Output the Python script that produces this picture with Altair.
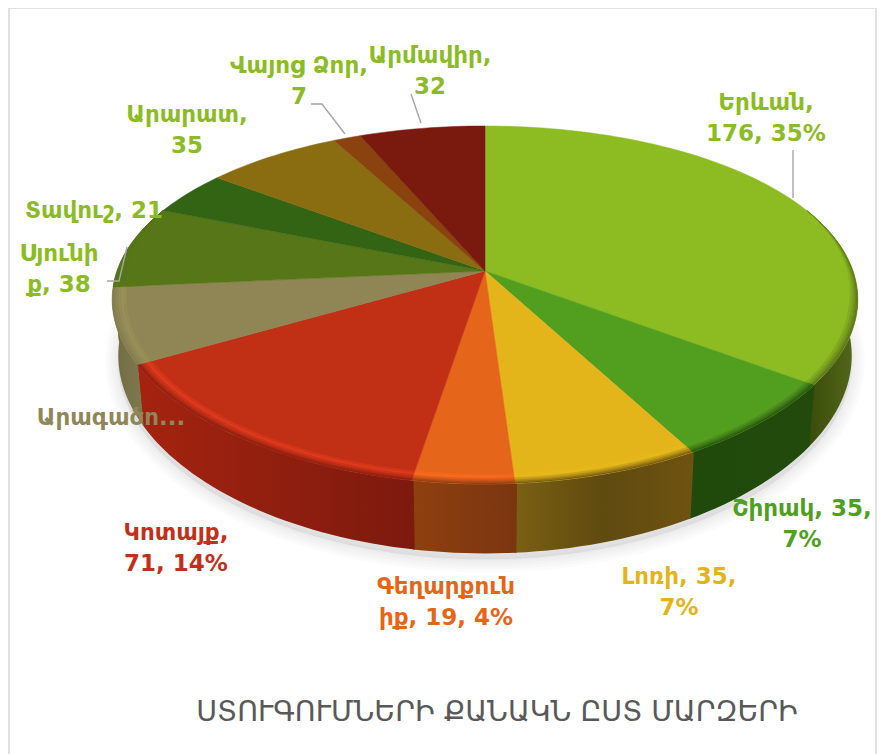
import math
import altair as alt

# ---- data
regions = ["Երևան", "Շիրակ", "Լոռի", "Գեղարքունիք", "Կոտայք", "Արագածոտն", "Սյունիք", "Տավուշ", "Արարատ", "Վայոց Ձոր", "Արմավիր"]
values = [176, 35, 35, 19, 71, 34, 38, 21, 35, 7, 32]
label_texts = ["Երևան,\n176, 35%", "Շիրակ, 35,\n7%", "Լոռի, 35,\n7%", "Գեղարքուն\nիք, 19, 4%", "Կոտայք,\n71, 14%",
               "Արագածո...", "Սյունի\nք, 38", "Տավուշ, 21", "Արարատ,\n35", "Վայոց Ձոր,\n7", "Արմավիր,\n32"]
title_text = "ՍՏՈՒԳՈՒՄՆԵՐԻ ՔԱՆԱԿՆ ԸՍՏ ՄԱՐԶԵՐԻ"

# ---- styles
top_colors = ["#8cbc22", "#529e1f", "#e3b51a", "#e5651a", "#c12f15", "#8f8555", "#567617", "#326414", "#8a6d10", "#8a420f", "#7a1a0e"]
hi_colors = ["#8cbc22", "#559f20", "#e8b91b", "#fb6a20", "#e03b1c", "#989058", "#567617", "#326414", "#8a6d10", "#8a420f", "#7a1a0e"]
wall_stops = [["#3a4c0b", "#55691a"], ["#1f4a0c", "#224a0c"], ["#7a6012", "#5f4a10", "#6f5210"], ["#8f4010", "#7a3510"],
              ["#a5230f", "#7c1a0e"], ["#6f6a42", "#7f7a4e"], ["#567617", "#567617"], ["#326414", "#326414"],
              ["#8a6d10", "#8a6d10"], ["#8a420f", "#8a420f"], ["#7a1a0e", "#7a1a0e"]]
label_colors = ["#8bbc24", "#4ea01e", "#e3b417", "#e66517", "#c3301a", "#8f8759", "#8bbc24", "#8bbc24", "#8bbc24", "#8bbc24", "#8bbc24"]

# ---- layout (pixels in the page)
OX, OY = -8, -8
label_x = [766, 802, 679, 446, 176, 111, 59, 94, 187, 299, 430]
label_y = [92, 498, 566, 576, 522, 407, 243, 200, 104, 55, 45]
leaders = [[(793, 150), (793, 198)], [(411, 94), (421, 123)], [(311, 104), (322, 104), (345, 134)], [(107, 281), (119, 281), (127, 247)]]
frame_path = [(9, 760), (9, 8), (876, 8), (876, 760)]
TOP = dict(cy=271, A=172.6, B=368)
BASE = dict(cy=325, A=185, B=362)
KY = 0.19
KX = 0.16
CX = 485


def P(theta, rho=1.0, g=TOP):
    t = math.radians(theta)
    u, v = rho * math.sin(t), rho * math.cos(t)
    return [CX + g["B"] * u / (1 + KX * v) + OX, g["cy"] - g["A"] * v / (1 + KY * v) + OY]


def arc(a, b, rho=1.0, g=TOP):
    n = max(2, int(abs(b - a) / 1.5) + 1)
    return [P(a + (b - a) * i / n, rho, g) for i in range(n + 1)]


def taper(theta, rho):
    """Bevel width fades out towards the two ends of the visible rim."""
    f = min(1.0, max(0.0, (theta - 68) / 35), max(0.0, (292 - theta) / 30))
    return 1 - (1 - rho) * f


def bevel_arc(a, b, rho):
    n = max(2, int(abs(b - a) / 1.5) + 1)
    out = []
    for i in range(n + 1):
        th = a + (b - a) * i / n
        out.append(P(th, taper(th, rho)))
    return out


def poly(points, **props):
    return {"type": "Feature", "properties": props, "geometry": {"type": "Polygon", "coordinates": [points + [points[0]]]}}


def line(points, **props):
    return {"type": "Feature", "properties": props, "geometry": {"type": "LineString", "coordinates": points}}


def mix(c1, c2, f):
    a = [int(c1[i:i + 2], 16) for i in (1, 3, 5)]
    b = [int(c2[i:i + 2], 16) for i in (1, 3, 5)]
    return "#%02x%02x%02x" % tuple(round(x + (y - x) * f) for x, y in zip(a, b))


total = sum(values)
edges = [0.0]
for val in values:
    edges.append(edges[-1] + val / total * 360)

layers = []

# soft shadow under the base
shadow_pts = [[x, y + 6] for x, y in arc(0, 360, 1.0, BASE)]
for w in (26, 20, 14, 8, 3):
    layers.append(alt.Chart(alt.Data(values=[poly(shadow_pts)])).mark_geoshape(
        fill="#a8a8a8", fillOpacity=0.05, stroke="#a8a8a8", strokeOpacity=0.05, strokeWidth=w))

# side walls, each slightly overlapping the previous one so no seam shows
VIS_A, VIS_B = 75, 285
for i in range(len(values)):
    a, b = max(edges[i], VIS_A), min(edges[i + 1], VIS_B)
    if b <= a:
        continue
    a_o = max(a - 0.25, VIS_A)
    pts = arc(a_o, b) + arc(b, a_o, 1.0, BASE)
    st = wall_stops[i]
    grad = alt.Gradient(gradient="linear", x1=0, x2=1, y1=0, y2=0,
                        stops=[alt.GradientStop(color=c, offset=j / (len(st) - 1)) for j, c in enumerate(st)])
    layers.append(alt.Chart(alt.Data(values=[poly(pts)])).mark_geoshape(fill=grad, strokeWidth=0))

# top surface
tops = []
for i in range(len(values)):
    pts = [[CX + OX, TOP["cy"] + OY]] + arc(edges[i], edges[i + 1])
    tops.append(poly(pts, c=top_colors[i]))
layers.append(alt.Chart(alt.Data(values=tops)).mark_geoshape(strokeWidth=0.5).encode(
    fill=alt.Fill("properties.c:N", scale=None), stroke=alt.Stroke("properties.c:N", scale=None)))

# rounded bevel along the visible rim
bands = []
rhos = [0.962, 0.970, 0.977, 0.984, 0.990, 0.995, 1.0]
for i in range(len(values)):
    a, b = max(edges[i], 68), min(edges[i + 1], 292)
    if b <= a:
        continue
    wall_mid = wall_stops[i][len(wall_stops[i]) // 2]
    for j in range(len(rhos) - 1):
        if j == 0:
            col = mix(top_colors[i], hi_colors[i], 0.55)
        else:
            col = mix(hi_colors[i], wall_mid, (j - 1) / (len(rhos) - 2))
        pts = bevel_arc(a, b, rhos[j]) + bevel_arc(b, a, rhos[j + 1])
        bands.append(poly(pts, c=col))
layers.append(alt.Chart(alt.Data(values=bands)).mark_geoshape(strokeWidth=0.3).encode(
    fill=alt.Fill("properties.c:N", scale=None), stroke=alt.Stroke("properties.c:N", scale=None)))

# frame and leader lines
shift = lambda pts: [[x + OX, y + OY] for x, y in pts]
layers.append(alt.Chart(alt.Data(values=[line(shift(frame_path))])).mark_geoshape(filled=False, stroke="#d9d9d9", strokeWidth=1.5))
layers.append(alt.Chart(alt.Data(values=[line(shift(p)) for p in leaders])).mark_geoshape(filled=False, stroke="#a6a6a6", strokeWidth=1.4))

# data labels
rows = [dict(t=t, x=x + OX, y=y + OY, c=c) for t, x, y, c in zip(label_texts, label_x, label_y, label_colors)]
layers.append(alt.Chart(alt.Data(values=rows)).mark_text(
    font="DejaVu Sans", fontWeight="bold", fontSize=23, lineBreak="\n", lineHeight=31, align="center", baseline="top"
).encode(longitude="x:Q", latitude="y:Q", text="t:N", color=alt.Color("c:N", scale=None)))

# title
layers.append(alt.Chart(alt.Data(values=[dict(t=title_text, x=497 + OX, y=712 + OY)])).mark_text(
    font="DejaVu Sans", fontSize=28.5, color="#595959", align="center", baseline="middle"
).encode(longitude="x:Q", latitude="y:Q", text="t:N"))

chart = alt.layer(*layers).project(type="identity", scale=1, translate=[0, 0]).properties(
    width=869, height=746, padding=0).configure_view(stroke=None)

chart.save("out.html", embed_options={"renderer": "svg", "actions": False})
